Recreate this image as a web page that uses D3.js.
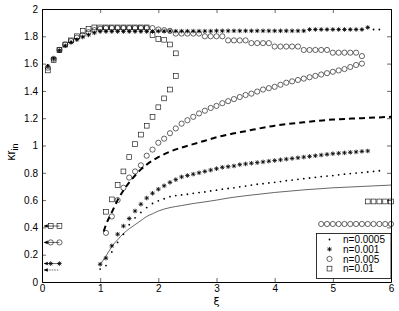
<!DOCTYPE html>
<html>
<head>
<meta charset="utf-8">
<script src="https://cdn.jsdelivr.net/npm/d3@7"></script>
<style>
  body { margin: 0; background: #fff; }
  svg { display: block; font-family: "Liberation Sans", Arial, sans-serif; }
  .tick text { font-size: 10px; fill: #000; }
</style>
</head>
<body>
<svg id="chart" width="399" height="311"></svg>
<script>
/** x grid helper: data were sampled every 0.1 in xi */
function grid(start, n) {
    return d3.range(n).map(function (i) { return +(start + i * 0.1).toFixed(1); });
}

/** upper branches (start at xi = 0.1) */
var dotUpper = [1.59,1.64,1.70,1.735,1.76,1.78,1.80,1.815,1.83,
    1.835,1.835,1.835,1.835,1.835,1.835,1.835,1.835,1.835,1.835,
    1.838,1.838,1.838,1.838,1.838,1.838,1.838,1.838,1.838,1.838,
    1.84,1.84,1.84,1.84,1.84,1.84,1.84,1.84,1.84,1.84,
    1.84,1.84,1.84,1.84,1.84,1.84,1.85,1.85,1.85,1.85,
    1.85,1.85,1.85,1.85,1.85,1.85,1.865,1.85,1.85];
var starUpper = [1.58,1.635,1.695,1.73,1.755,1.775,1.795,1.81,1.825,
    1.835,1.835,1.835,1.835,1.835,1.835,1.835,1.835,1.835,1.835,
    1.838,1.838,1.838,1.838,1.838,1.838,1.838,1.838,1.838,1.838,
    1.84,1.84,1.84,1.84,1.84,1.84,1.84,1.84,1.84,1.84,
    1.84,1.84,1.84,1.84,1.84,1.84,1.85,1.85,1.85,1.85,
    1.85,1.85,1.85,1.85,1.85,1.85,1.865];
var circleUpper = [1.57,1.635,1.70,1.74,1.765,1.79,1.81,1.83,1.845,
    1.855,1.86,1.86,1.86,1.86,1.86,1.86,1.86,1.86,1.86,
    1.85,1.845,1.84,1.82,1.82,1.82,1.82,1.82,1.80,1.80,
    1.80,1.80,1.77,1.77,1.77,1.77,1.75,1.75,1.75,1.75,
    1.725,1.725,1.725,1.725,1.725,1.70,1.70,1.70,1.70,1.70,
    1.68,1.68,1.68,1.68,1.68,1.655];
var squareUpper = [1.55,1.625,1.70,1.74,1.77,1.80,1.84,1.855,1.865,
    1.865,1.865,1.865,1.865,1.865,1.865,1.865,1.865,1.865,
    1.81,1.78,1.775,1.74,1.675];

/** lower branches */
var dotLower = [0.095,0.12,0.22,0.29,0.35,0.42,0.47,0.51,0.545,0.575,
    0.595,0.61,0.625,0.633,0.638,0.643,0.65,0.655,0.66,0.667,
    0.673,0.68,0.685,0.69,0.697,0.703,0.71,0.716,0.72,0.726,
    0.73,0.736,0.742,0.747,0.752,0.757,0.762,0.767,0.772,0.776,
    0.78,0.785,0.79,0.794,0.798,0.802,0.806,0.81,0.815];          // xi 1.0 .. 5.8
var starLower = [0.13,0.175,0.265,0.35,0.41,0.465,0.52,0.57,0.615,0.65,
    0.68,0.705,0.73,0.75,0.77,0.78,0.79,0.80,0.81,0.82,
    0.83,0.84,0.845,0.85,0.86,0.865,0.87,0.875,0.88,0.885,
    0.89,0.895,0.90,0.905,0.91,0.915,0.92,0.925,0.93,0.935,
    0.94,0.943,0.946,0.95,0.953,0.957,0.96];                        // xi 1.0 .. 5.6
var circleLower = [0.36,0.48,0.60,0.69,0.765,0.81,0.855,0.925,0.97,1.02,
    1.05,1.09,1.125,1.16,1.185,1.21,1.235,1.255,1.275,1.29,
    1.31,1.325,1.34,1.355,1.37,1.38,1.395,1.41,1.42,1.43,
    1.445,1.46,1.47,1.48,1.49,1.50,1.51,1.52,1.53,1.54,
    1.55,1.56,1.575,1.59,1.60];                                     // xi 1.1 .. 5.5
var squareLower = [0.515,0.605,0.71,0.81,0.915,1.01,1.08,1.145,1.21,1.28,1.345,1.41,1.51]; // xi 1.1 .. 2.3

/** right hand rows */
var circleRightX = [4.8,4.9,5.0,5.1,5.2,5.3,5.4,5.5,5.6,5.7,5.8,5.9,6.0];
var circleRightY = 0.425;
var squareRightX = [5.6,5.7,5.8,5.9,6.0];
var squareRightY = 0.59;

/** left hand levels near xi = 0 */
var leftLevels = [
    {type: 'dot', y: 0.088},
    {type: 'star', y: 0.135},
    {type: 'circle', y: 0.29},
    {type: 'square', y: 0.41}
];
var leftMarkX = [0.15, 0.3];

/** curves */
var solidX = [1.0,1.1,1.2,1.3,1.4,1.5,1.6,1.7,1.8,1.9,2.0,2.2,2.4,2.6,2.8,3.0,3.2,3.5,4.0,4.5,5.0,5.5,6.0];
var solidY = [0.13,0.19,0.26,0.31,0.355,0.39,0.42,0.45,0.48,0.50,0.52,0.545,0.56,0.575,0.587,0.60,0.615,0.632,0.656,0.675,0.69,0.70,0.71];
var dashX = [1.06,1.1,1.2,1.3,1.4,1.5,1.6,1.7,1.8,1.9,2.0,2.2,2.4,2.6,2.8,3.0,3.2,3.5,4.0,4.5,5.0,5.5,6.0];
var dashY = [0.37,0.42,0.51,0.60,0.67,0.73,0.78,0.825,0.86,0.89,0.915,0.955,0.985,1.01,1.035,1.06,1.08,1.105,1.145,1.17,1.19,1.20,1.21];

var legendLabels = ['n=0.0005', 'n=0.001', 'n=0.005', 'n=0.01'];
var legendTypes = ['dot', 'star', 'circle', 'square'];

var xTicks = [0,1,2,3,4,5,6];
var yTicks = [0,0.2,0.4,0.6,0.8,1,1.2,1.4,1.6,1.8,2];

/** layout */
var plotLeft = 42, plotRight = 391, plotTop = 9, plotBottom = 282;

var svg = d3.select('#chart');
var x = d3.scaleLinear().domain([0, 6]).range([plotLeft, plotRight]);
var y = d3.scaleLinear().domain([0, 2]).range([plotBottom, plotTop]);

var fmt = function (d) { return String(+d.toFixed(1)); };

// axes, ticks inside on all four sides
svg.append('g').attr('transform', 'translate(0,' + plotBottom + ')')
    .call(d3.axisBottom(x).tickValues(xTicks).tickFormat(fmt).tickSizeInner(-4).tickSizeOuter(0).tickPadding(3));
svg.append('g').attr('transform', 'translate(0,' + plotTop + ')')
    .call(d3.axisTop(x).tickValues(xTicks).tickFormat('').tickSizeInner(-4).tickSizeOuter(0));
svg.append('g').attr('transform', 'translate(' + plotLeft + ',0)')
    .call(d3.axisLeft(y).tickValues(yTicks).tickFormat(fmt).tickSizeInner(-4).tickSizeOuter(0).tickPadding(4));
svg.append('g').attr('transform', 'translate(' + plotRight + ',0)')
    .call(d3.axisRight(y).tickValues(yTicks).tickFormat('').tickSizeInner(-4).tickSizeOuter(0));
svg.selectAll('.domain').attr('stroke', '#000');
svg.selectAll('.tick line').attr('stroke', '#000').attr('stroke-width', 0.6);

// marker painter
function marker(g, type, px, py) {
    if (type === 'dot') {
        g.append('circle').attr('cx', px).attr('cy', py).attr('r', 0.9).attr('fill', '#000');
    } else if (type === 'circle') {
        g.append('circle').attr('cx', px).attr('cy', py).attr('r', 2.6)
            .attr('fill', 'none').attr('stroke', '#000').attr('stroke-width', 0.6);
    } else if (type === 'square') {
        g.append('rect').attr('x', px - 2.4).attr('y', py - 2.4).attr('width', 4.8).attr('height', 4.8)
            .attr('fill', 'none').attr('stroke', '#000').attr('stroke-width', 0.6);
    } else if (type === 'star') {
        var r = 2.3, s = r * 0.72;
        g.append('path')
            .attr('d', 'M' + (px - r) + ',' + py + 'H' + (px + r) +
                'M' + px + ',' + (py - r) + 'V' + (py + r) +
                'M' + (px - s) + ',' + (py - s) + 'L' + (px + s) + ',' + (py + s) +
                'M' + (px - s) + ',' + (py + s) + 'L' + (px + s) + ',' + (py - s))
            .attr('stroke', '#000').attr('stroke-width', 0.8).attr('fill', 'none');
    }
}

function drawSeries(vals, start, type) {
    var xs = grid(start, vals.length);
    var g = svg.append('g');
    vals.forEach(function (v, i) { marker(g, type, x(xs[i]), y(v)); });
}

// curves
var line = d3.line().x(function (d) { return x(d[0]); }).y(function (d) { return y(d[1]); }).curve(d3.curveMonotoneX);
svg.append('path').datum(d3.zip(solidX, solidY)).attr('d', line)
    .attr('fill', 'none').attr('stroke', '#000').attr('stroke-width', 0.6);
svg.append('path').datum(d3.zip(dashX, dashY)).attr('d', line)
    .attr('fill', 'none').attr('stroke', '#000').attr('stroke-width', 2).attr('stroke-dasharray', '6,4');

// upper and lower branches
drawSeries(squareUpper, 0.1, 'square');
drawSeries(circleUpper, 0.1, 'circle');
drawSeries(starUpper, 0.1, 'star');
drawSeries(dotUpper, 0.1, 'dot');
drawSeries(squareLower, 1.1, 'square');
drawSeries(circleLower, 1.1, 'circle');
drawSeries(starLower, 1.0, 'star');
drawSeries(dotLower, 1.0, 'dot');

// right rows
var gr = svg.append('g');
circleRightX.forEach(function (v) { marker(gr, 'circle', x(v), y(circleRightY)); });
squareRightX.forEach(function (v) { marker(gr, 'square', x(v), y(squareRightY)); });

// left levels: short line, left arrow, two markers
leftLevels.forEach(function (d) {
    var g = svg.append('g');
    var py = y(d.y);
    g.append('line').attr('x1', x(0.04)).attr('x2', x(0.3)).attr('y1', py).attr('y2', py)
        .attr('stroke', '#000').attr('stroke-width', 0.6)
        .attr('stroke-dasharray', d.type === 'dot' ? '1.5,1' : null);
    g.append('path')
        .attr('d', 'M' + x(0.03) + ',' + py + 'L' + (x(0.03) + 4) + ',' + (py - 1.8) + 'L' + (x(0.03) + 4) + ',' + (py + 1.8) + 'Z')
        .attr('fill', '#000');
    if (d.type !== 'dot') {
        leftMarkX.forEach(function (v) { marker(g, d.type, x(v), py); });
    }
});

// legend
var lg = svg.append('g');
lg.append('rect').attr('x', 316.5).attr('y', 233.5).attr('width', 74.5).attr('height', 45)
    .attr('fill', '#fff').attr('stroke', '#000').attr('stroke-width', 0.8);
legendLabels.forEach(function (lab, i) {
    var cy = 239.5 + i * 9.7;
    marker(lg, legendTypes[i], 329.5, cy);
    lg.append('text').attr('x', 343).attr('y', cy + 3.6).attr('font-size', 10).text(lab);
});

// axis labels
svg.append('text').attr('x', x(3)).attr('y', 305).attr('text-anchor', 'middle')
    .attr('font-size', 11).attr('font-family', 'DejaVu Sans').text('ξ');
var yl = svg.append('text').attr('transform', 'translate(15,152) rotate(-90)')
    .attr('text-anchor', 'middle').attr('font-size', 12);
yl.append('tspan').text('κr');
yl.append('tspan').attr('font-size', 9).attr('dy', 3).text('in');
</script>
</body>
</html>
